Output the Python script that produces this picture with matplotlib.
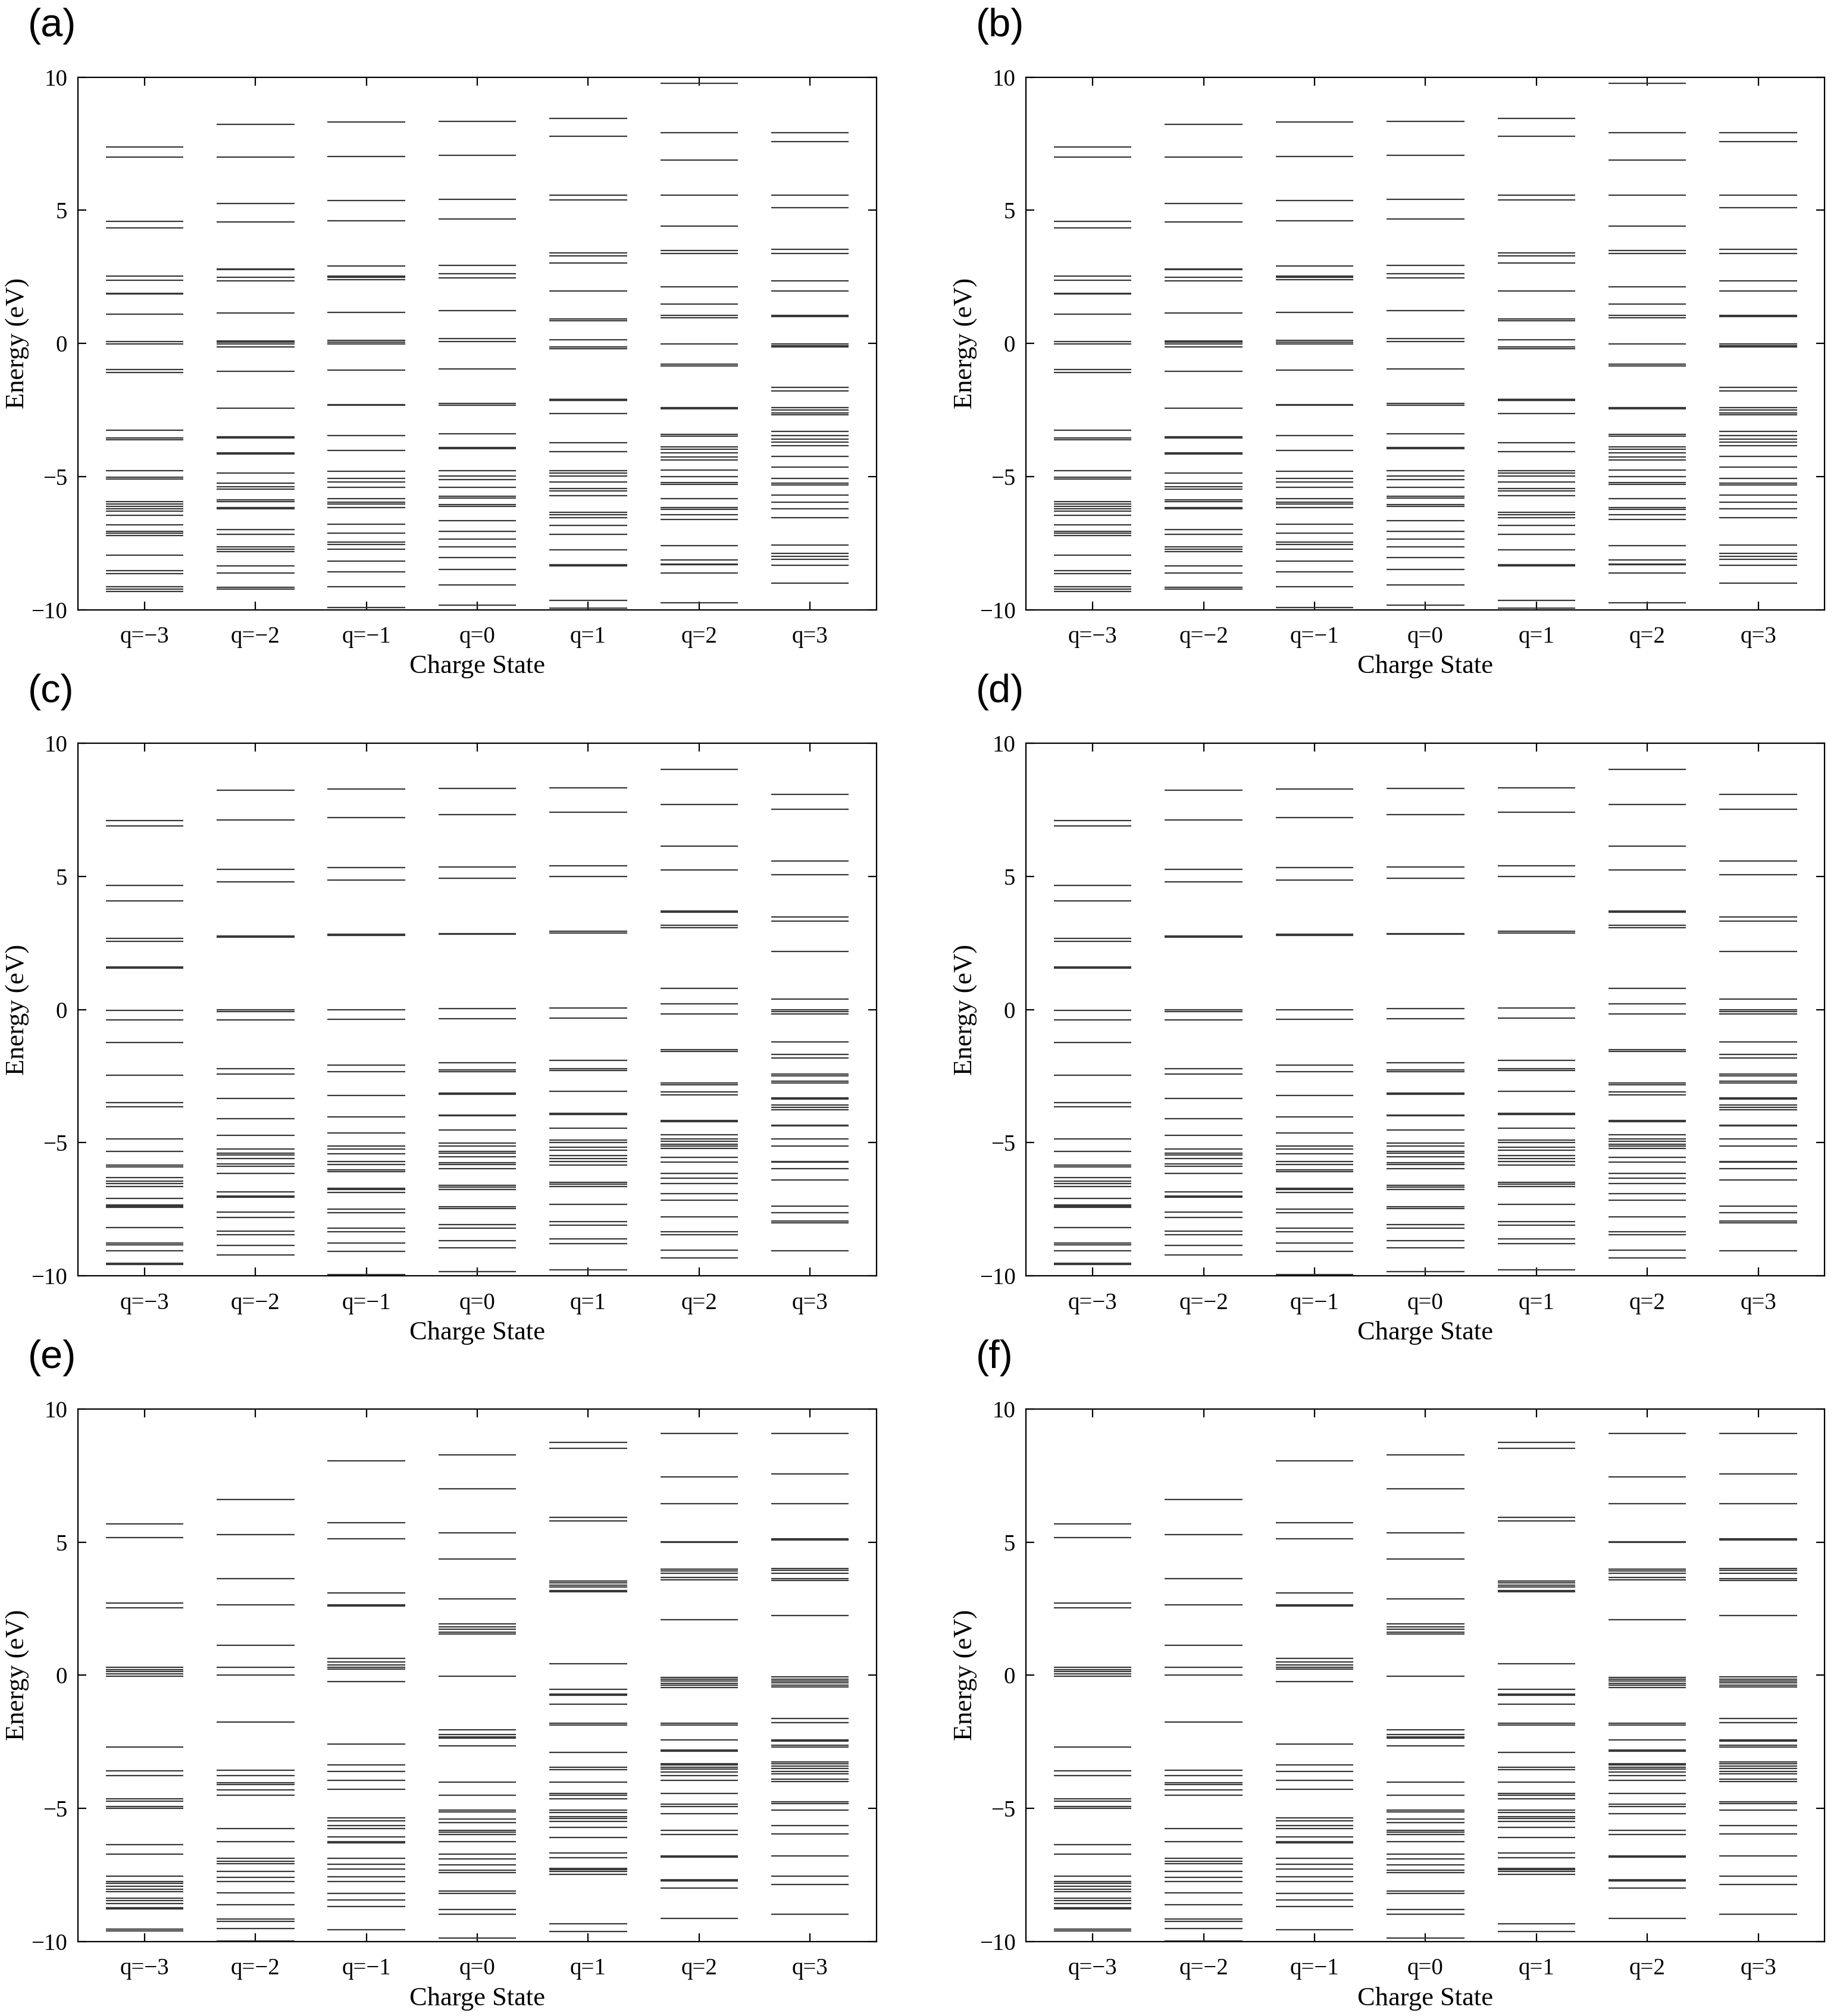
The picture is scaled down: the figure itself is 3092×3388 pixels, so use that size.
import matplotlib
matplotlib.use("Agg")
import matplotlib.pyplot as plt

# charge states shown on the x axis
charges = [-3, -2, -1, 0, 1, 2, 3]
tick_labels = ["q=\u22123", "q=\u22122", "q=\u22121", "q=0", "q=1", "q=2", "q=3"]

# energy levels (eV) (a)/(b), one list per charge state
levels_ab = [
    [7.39, 6.99, 4.59, 4.35, 2.52, 2.37, 1.88, 1.85, 1.10, 0.07, -0.01, -0.99, -1.09,
     -3.25, -3.55, -3.62, -4.77, -5.02, -5.09, -5.95, -6.04, -6.13, -6.21, -6.30, -6.46,
     -6.82, -7.05, -7.13, -7.21, -7.96, -8.53, -8.65, -9.13, -9.23, -9.31],
    [8.22, 7.00, 5.26, 4.56, 2.80, 2.77, 2.49, 2.36, 1.14, 0.09, 0.04, -0.03, -0.14,
     -1.05, -2.44, -3.51, -3.56, -4.12, -4.16, -4.86, -5.24, -5.39, -5.47, -5.88, -5.94,
     -6.16, -6.22, -7.00, -7.17, -7.63, -7.73, -7.81, -8.35, -8.62, -9.15, -9.23],
    [8.31, 7.02, 5.37, 4.60, 2.90, 2.54, 2.48, 2.40, 1.17, 0.12, 0.05, -0.03, -1.01,
     -2.29, -2.33, -3.46, -4.01, -4.81, -5.06, -5.20, -5.40, -5.82, -5.96, -6.03, -6.17,
     -6.79, -7.13, -7.47, -7.56, -7.73, -8.17, -8.57, -9.13, -9.92],
    [8.33, 7.07, 5.41, 4.67, 2.93, 2.62, 2.46, 1.24, 0.19, 0.06, -0.95, -2.25, -2.32,
     -3.40, -3.91, -3.96, -4.77, -4.98, -5.12, -5.41, -5.75, -5.80, -6.05, -6.13, -6.65,
     -7.07, -7.36, -7.65, -8.04, -8.50, -9.08, -9.84],
    [8.45, 7.79, 5.57, 5.38, 3.41, 3.30, 3.03, 1.96, 0.92, 0.85, 0.14, -0.14, -0.19,
     -2.09, -2.14, -2.64, -3.72, -4.07, -4.77, -4.86, -4.98, -5.20, -5.46, -5.54, -5.73,
     -6.34, -6.43, -6.54, -6.84, -7.17, -7.76, -8.31, -8.36, -9.65, -9.94],
    [9.76, 7.91, 6.88, 5.56, 4.41, 3.48, 3.37, 2.13, 1.48, 1.05, 0.97, -0.03, -0.77,
     -0.84, -2.40, -2.46, -3.41, -3.49, -3.88, -3.98, -4.12, -4.27, -4.38, -4.75, -5.01,
     -5.23, -5.30, -5.83, -6.17, -6.23, -6.44, -6.62, -7.60, -8.13, -8.29, -8.32, -8.62,
     -9.74],
    [7.91, 7.58, 5.57, 5.10, 3.53, 3.38, 2.34, 1.98, 1.06, 1.00, -0.02, -0.08, -0.13,
     -1.66, -1.79, -2.42, -2.51, -2.61, -2.69, -3.30, -3.46, -3.59, -3.70, -3.85, -4.24,
     -4.64, -5.07, -5.25, -5.31, -5.70, -5.96, -6.20, -6.55, -7.58, -7.89, -8.00, -8.10,
     -8.33, -9.00],
]

# energy levels (eV) (c)/(d)
levels_cd = [
    [7.09, 6.90, 4.67, 4.08, 2.67, 2.56, 1.60, 1.56, -0.03, -0.40, -1.25, -2.47, -3.50,
     -3.66, -4.87, -5.33, -5.85, -5.92, -6.31, -6.44, -6.53, -6.65, -7.09, -7.34, -7.39,
     -7.44, -8.18, -8.77, -8.85, -9.07, -9.54, -9.57],
    [8.24, 7.12, 5.27, 4.79, 2.77, 2.72, 0.00, -0.08, -0.38, -2.22, -2.42, -3.35, -4.11,
     -4.72, -5.24, -5.40, -5.46, -5.59, -5.81, -5.90, -6.16, -6.85, -7.01, -7.06, -7.61,
     -7.82, -8.32, -8.47, -8.86, -9.22],
    [8.29, 7.22, 5.33, 4.86, 2.83, 2.78, 0.00, -0.36, -2.10, -2.34, -3.23, -4.03, -4.64,
     -5.13, -5.25, -5.43, -5.71, -5.82, -6.03, -6.08, -6.71, -6.77, -6.87, -7.50, -7.64,
     -8.21, -8.35, -8.78, -9.08, -9.95],
    [8.31, 7.33, 5.36, 4.92, 2.86, 2.82, 0.03, -0.35, -1.99, -2.26, -2.33, -3.13, -3.18,
     -3.96, -4.00, -4.53, -5.02, -5.13, -5.33, -5.40, -5.54, -5.76, -5.82, -5.98, -6.61,
     -6.68, -6.77, -7.41, -7.47, -8.07, -8.21, -8.69, -8.94, -9.84],
    [8.32, 7.41, 5.40, 5.00, 2.93, 2.88, 0.06, -0.32, -1.90, -2.22, -2.28, -3.07, -3.89,
     -3.94, -4.45, -4.91, -5.00, -5.17, -5.28, -5.49, -5.59, -5.70, -5.85, -6.49, -6.57,
     -6.65, -7.31, -7.96, -8.10, -8.62, -8.80, -9.78],
    [9.03, 7.71, 6.14, 5.24, 3.69, 3.66, 3.16, 3.08, 0.79, 0.21, -0.17, -1.50, -1.58,
     -2.77, -2.82, -3.10, -3.20, -4.16, -4.21, -4.70, -4.86, -4.95, -5.06, -5.14, -5.22,
     -5.55, -5.74, -6.16, -6.33, -6.53, -6.91, -7.17, -7.78, -8.35, -8.46, -9.05, -9.34],
    [8.09, 7.53, 5.57, 5.06, 3.48, 3.32, 2.18, 0.40, 0.00, -0.08, -0.17, -1.22, -1.69,
     -1.82, -2.42, -2.50, -2.69, -2.75, -3.31, -3.37, -3.59, -3.67, -3.77, -4.34, -4.38,
     -4.87, -5.14, -5.70, -5.74, -5.98, -6.41, -7.39, -7.63, -7.94, -8.02, -9.07],
]

# energy levels (eV) (e)/(f)
levels_ef = [
    [5.69, 5.17, 2.72, 2.54, 0.29, 0.21, 0.13, 0.05, -0.03, -2.69, -3.59, -3.77, -4.64,
     -4.74, -4.93, -5.01, -6.36, -6.72, -7.54, -7.76, -7.81, -7.92, -8.03, -8.12, -8.38,
     -8.47, -8.57, -8.73, -8.78, -9.54, -9.60],
    [6.60, 5.29, 3.62, 2.65, 1.13, 0.29, 0.00, -1.75, -3.58, -3.77, -4.05, -4.10, -4.31,
     -4.51, -5.75, -6.25, -6.87, -7.00, -7.09, -7.38, -7.60, -7.74, -8.17, -8.62, -9.16,
     -9.25, -9.52, -9.98],
    [8.06, 5.72, 5.12, 3.08, 2.64, 2.59, 0.64, 0.49, 0.38, 0.29, 0.22, -0.24, -2.58,
     -3.37, -3.62, -3.94, -4.28, -5.36, -5.48, -5.64, -5.76, -6.07, -6.26, -6.30, -6.88,
     -7.11, -7.27, -7.58, -7.76, -8.19, -8.44, -8.68, -9.55],
    [8.27, 7.01, 5.34, 4.36, 2.86, 1.92, 1.81, 1.72, 1.61, 1.54, -0.03, -2.05, -2.23,
     -2.31, -2.37, -2.66, -4.01, -4.50, -5.06, -5.14, -5.41, -5.53, -5.82, -5.90, -5.99,
     -6.26, -6.72, -6.90, -7.12, -7.33, -7.42, -8.11, -8.20, -8.81, -8.98, -9.87],
    [8.74, 8.52, 5.93, 5.79, 3.53, 3.47, 3.39, 3.32, 3.18, 3.13, 0.43, -0.52, -0.70,
     -0.75, -1.08, -1.81, -1.88, -2.91, -3.45, -3.55, -4.01, -4.44, -4.50, -4.64, -5.06,
     -5.15, -5.31, -5.39, -5.49, -5.72, -6.09, -6.68, -6.85, -7.25, -7.31, -7.38, -7.49,
     -9.33, -9.63],
    [9.09, 7.46, 6.45, 5.01, 4.98, 3.99, 3.91, 3.82, 3.67, 3.58, 2.08, -0.08, -0.14,
     -0.22, -0.30, -0.38, -0.46, -1.80, -1.88, -2.42, -2.80, -2.86, -3.32, -3.37, -3.45,
     -3.53, -3.64, -3.78, -3.96, -4.44, -4.85, -4.93, -5.21, -5.83, -5.99, -6.79, -6.84,
     -7.68, -7.73, -8.00, -9.13],
    [9.08, 7.57, 6.44, 5.12, 5.09, 4.01, 3.93, 3.82, 3.62, 3.55, 2.24, -0.06, -0.14,
     -0.21, -0.29, -0.37, -0.45, -1.62, -1.78, -2.42, -2.48, -2.64, -2.69, -3.26, -3.32,
     -3.42, -3.50, -3.61, -3.70, -3.91, -3.99, -4.75, -4.83, -5.06, -5.64, -5.96, -6.79,
     -7.55, -7.87, -8.97],
]

panel_names = ["(a)", "(b)", "(c)", "(d)", "(e)", "(f)"]
panel_levels = [levels_ab, levels_ab, levels_cd, levels_cd, levels_ef, levels_ef]

plt.rcParams['font.family'] = ['Liberation Serif', 'DejaVu Serif']
plt.rcParams['axes.linewidth'] = 0.8

fig = plt.figure(figsize=(15.46, 16.94), dpi=200)

lefts = [0.0424, 0.5577]
bottoms = [0.6976, 0.3672, 0.0370]
w, h = 0.434, 0.2641

for i, (name, levels) in enumerate(zip(panel_names, panel_levels)):
    row, col = divmod(i, 2)
    ax = fig.add_axes([lefts[col], bottoms[row], w, h])
    for k, lv in enumerate(levels):
        ax.hlines(lv, k - 0.35, k + 0.35, color='#383838', linewidth=0.8)
    ax.set_xlim(-0.6, 6.6)
    ax.set_ylim(-10, 10)
    ax.set_xticks(range(len(charges)))
    ax.set_xticklabels(tick_labels)
    ax.set_yticks([-10, -5, 0, 5, 10])
    ax.set_yticklabels(["\u221210", "\u22125", "0", "5", "10"])
    ax.tick_params(direction='in', top=True, right=True, length=5, width=0.8,
                   labelsize=14)
    ax.tick_params(axis='x', pad=10)
    ax.tick_params(axis='y', pad=6.5)
    ax.set_xlabel('Charge State', fontsize=16, labelpad=4)
    ax.set_ylabel('Energy (eV)', fontsize=16, labelpad=1)
    fig.text(lefts[col] - 0.0273, bottoms[row] + h + 0.0345, name,
             fontsize=24, family='Liberation Sans', va='top', ha='left')

fig.savefig('out.png', dpi=200)
